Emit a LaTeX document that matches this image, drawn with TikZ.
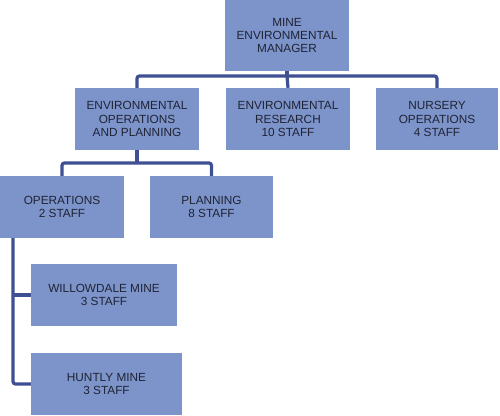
\documentclass[tikz,border=0pt]{standalone}
\usepackage{fontspec}
\setmainfont{Liberation Sans}
\definecolor{boxfill}{HTML}{7C94CA}
\definecolor{linecol}{HTML}{3E4F92}
\definecolor{txtcol}{HTML}{202334}
\begin{document}
\begin{tikzpicture}[x=1pt,y=-1pt,
  box/.style={rectangle,fill=boxfill,draw=none,inner sep=0pt,align=center,text=txtcol,
    font=\fontsize{11.8}{13.4}\selectfont},
  conn/.style={draw=linecol,line width=3.2pt,rounded corners=2.5pt}]
\useasboundingbox (0,0) rectangle (500,415);
\node[box,minimum width=124pt,minimum height=71pt] (top) at (287,35.5) {MINE\\ENVIRONMENTAL\\MANAGER};
\node[box,minimum width=124pt,minimum height=62pt] (eop) at (137,119) {ENVIRONMENTAL\\OPERATIONS\\AND PLANNING};
\node[box,minimum width=124pt,minimum height=62pt] (res) at (288,119) {ENVIRONMENTAL\\RESEARCH\\10 STAFF};
\node[box,minimum width=122pt,minimum height=62pt] (nur) at (437,119) {NURSERY\\OPERATIONS\\4 STAFF};
\node[box,minimum width=124pt,minimum height=62pt] (ops) at (62,207) {OPERATIONS\\2 STAFF};
\node[box,minimum width=123pt,minimum height=62pt] (plan) at (211.5,207) {PLANNING\\8 STAFF};
\node[box,minimum width=146pt,minimum height=62pt] (wil) at (104,295) {WILLOWDALE MINE\\3 STAFF};
\node[box,minimum width=151pt,minimum height=62pt] (hun) at (106.5,384) {HUNTLY MINE\\3 STAFF};
\coordinate (h1) at (287,76);
\coordinate (h2) at (137,163);
\coordinate (v1) at (13,238);
\draw[conn] (top.south) -- (h1);
\draw[conn] (eop.north) |- (h1) -| (nur.north);
\draw[conn] (h1) -- (res.north);
\draw[conn] (eop.south) -- (h2);
\draw[conn] (ops.north) |- (h2) -| (plan.north);
\draw[conn] (v1) |- (hun.west);
\draw[conn] (v1 |- wil.west) -- (wil.west);
\end{tikzpicture}
\end{document}
